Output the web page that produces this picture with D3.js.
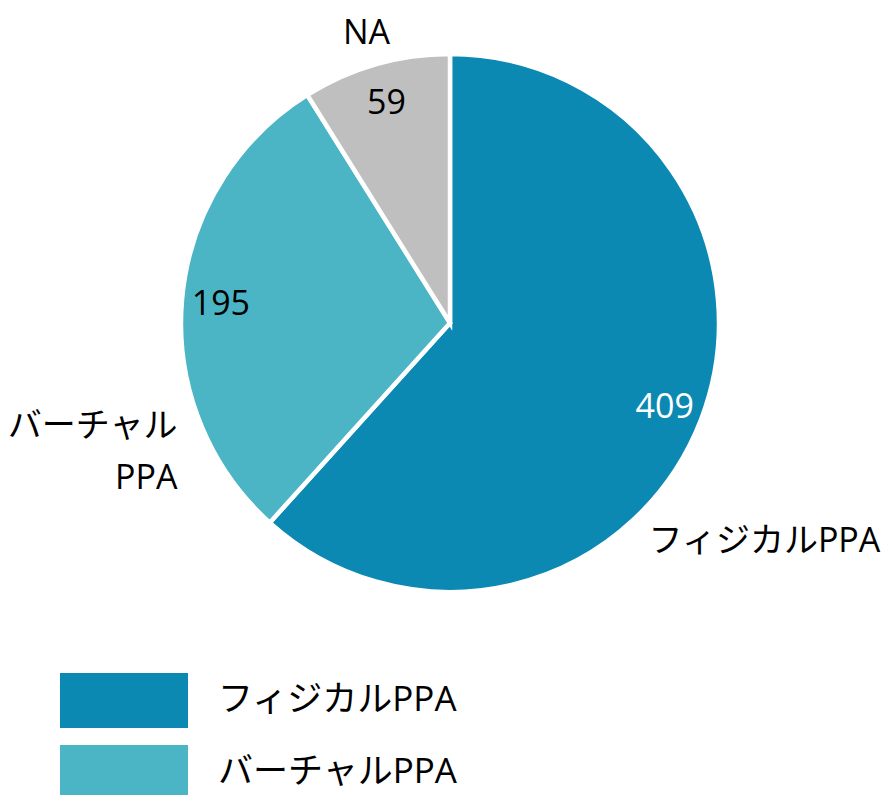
<!DOCTYPE html>
<html>
<head>
<meta charset="utf-8">
<script src="https://cdn.jsdelivr.net/npm/d3@7"></script>
<style>
  body { margin: 0; background: #fff; }
  text { font-family: "Open Sans", "Noto Sans CJK JP", sans-serif; }
</style>
</head>
<body>
<div id="chart"></div>
<script>

// data
var categories = ["フィジカルPPA", "バーチャルPPA", "NA"];
var values = [409, 195, 59];
var labelLines = [["フィジカルPPA"], ["バーチャル", "PPA"], ["NA"]];
var legendItems = ["フィジカルPPA", "バーチャルPPA"];

var colors = ["#0b89b2", "#4bb4c5", "#bfbfbf"];

var width = 883, height = 795;
var cx = 450, cy = 323, radius = 269;

var svg = d3.select("#chart").append("svg")
    .attr("width", width)
    .attr("height", height);

var g = svg.append("g")
    .attr("transform", "translate(" + cx + "," + cy + ")");

var pie = d3.pie().sort(null).value(function(d) { return d; });
var arcs = pie(values);

var arc = d3.arc().innerRadius(0).outerRadius(radius);
var valueArc = d3.arc().innerRadius(230).outerRadius(230);

// slices
g.selectAll(".slice")
    .data(arcs)
    .enter().append("path")
    .attr("class", "slice")
    .attr("d", arc)
    .style("fill", function(d, i) { return colors[i]; })
    .style("stroke", "#fff")
    .style("stroke-width", 4.5)
    .style("stroke-linejoin", "miter");

// value labels
g.selectAll(".value")
    .data(arcs)
    .enter().append("text")
    .attr("class", "value")
    .attr("transform", function(d) { return "translate(" + valueArc.centroid(d) + ")"; })
    .attr("text-anchor", "middle")
    .attr("dy", "0.36em")
    .style("font-size", "34px")
    .style("fill", function(d, i) { return i === 0 ? "#fff" : "#000"; })
    .text(function(d) { return d.data; });

// category labels, placed around the pie (angle in degrees from 12 o'clock)
var catPos = [
    { angle: 124.6, r: 382, anchor: "middle", dx: 0 },
    { angle: 250, r: 373, anchor: "end", dx: 78 },
    { angle: 344, r: 303, anchor: "middle", dx: 0 }
];

catPos.forEach(function(p, i) {
    var a = p.angle * Math.PI / 180;
    var x = p.r * Math.sin(a) + p.dx;
    var y = -p.r * Math.cos(a);
    var t = g.append("text")
        .attr("text-anchor", p.anchor)
        .style("font-size", "34px")
        .style("fill", "#000");
    var lines = labelLines[i];
    lines.forEach(function(s, j) {
        t.append("tspan")
            .attr("x", x)
            .attr("y", y + (j - (lines.length - 1) / 2) * 52)
            .attr("dy", "0.36em")
            .text(s);
    });
});

// legend
var legend = svg.append("g").attr("class", "legend");
var legendY = d3.scaleBand().domain(legendItems).range([673, 800]).paddingInner(0.236);

legendItems.forEach(function(name, i) {
    legend.append("rect")
        .attr("x", 60)
        .attr("y", legendY(name))
        .attr("width", 128)
        .attr("height", legendY.bandwidth())
        .style("fill", colors[i]);
    legend.append("text")
        .attr("x", 218)
        .attr("y", legendY(name) + legendY.bandwidth() / 2 - 2)
        .attr("dy", "0.36em")
        .style("font-size", "35px")
        .text(name);
});

</script>
</body>
</html>
